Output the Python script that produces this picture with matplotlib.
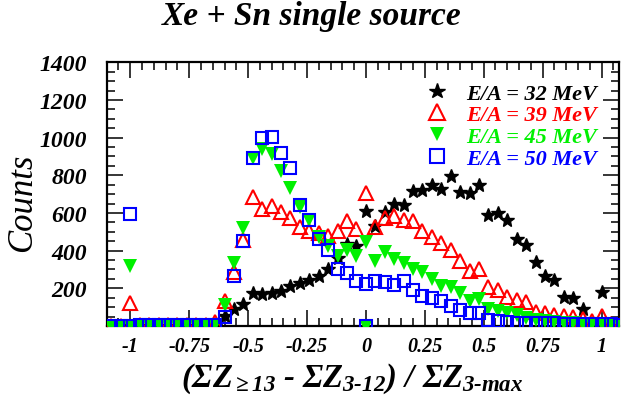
import numpy as np
import matplotlib
matplotlib.use('Agg')
import matplotlib.pyplot as plt
from matplotlib.ticker import MultipleLocator, FixedLocator, FixedFormatter

plt.rcParams['font.family'] = 'Liberation Serif'
plt.rcParams['font.weight'] = 'bold'
plt.rcParams['font.style'] = 'italic'
plt.rcParams['mathtext.fontset'] = 'custom'
plt.rcParams['mathtext.rm'] = 'Liberation Serif:bold'
plt.rcParams['mathtext.it'] = 'Liberation Serif:bold:italic'
plt.rcParams['mathtext.bf'] = 'Liberation Serif:bold'

# ---------------- data ----------------
x_bins = [-1.08, -1.04, -1.00, -0.96, -0.92, -0.88, -0.84, -0.80, -0.76, -0.72, -0.68, -0.64,
          -0.60, -0.56, -0.52, -0.48, -0.44, -0.40, -0.36, -0.32, -0.28, -0.24, -0.20, -0.16,
          -0.12, -0.08, -0.04, 0.00, 0.04, 0.08, 0.12, 0.16, 0.20, 0.24, 0.28, 0.32, 0.36,
          0.40, 0.44, 0.48, 0.52, 0.56, 0.60, 0.64, 0.68, 0.72, 0.76, 0.80, 0.84, 0.88, 0.92,
          0.96, 1.00, 1.04, 1.08]

counts_32 = [0, 0, 0, 0, 0, 0, 0, 0, 0, 0, 0, 0,
             52, 90, 117, 175, 172, 175, 188, 211, 229, 245, 268, 301, 362, 434, 427,
             608,
             530, 606, 649, 642, 717, 720, 746, 729, 794, 711, 706, 750, 590, 599, 565, 463,
             431, 342, 268, 242, 153, 146, 90, 0,
             179, 0, 0]

counts_39 = [0, 0, 122, 5, 5, 5, 5, 5, 5, 5, 5, 20,
             135, 288, 454, 686, 622, 637, 605, 571, 528, 505, 494, 478, 507, 560, 516,
             705,
             525, 571, 582, 562, 556, 507, 472, 440, 401, 343, 290, 303, 208, 190, 155, 139,
             125, 76, 70, 58, 52, 50, 35, 28,
             55, 8, 5]

counts_45 = [0, 0, 321, 3, 3, 3, 3, 3, 3, 3, 3, 5,
             112, 333, 522, 890, 940, 915, 821, 735, 630, 562, 472, 423, 372, 405, 372,
             446,
             343, 395, 356, 337, 303, 289, 252, 214, 206, 175, 135, 145, 92, 80, 68, 56,
             43, 34, 28, 22, 18, 15, 12, 10,
             8, 5, 3]

counts_50 = [0, 0, 592, 3, 3, 3, 3, 3, 3, 3, 3, 5,
             50, 268, 449, 892, 999, 1003, 918, 839, 640, 565, 461, 401, 300, 282, 238,
             223,
             241, 236, 218, 238, 190, 161, 150, 135, 108, 85, 68, 70, 30, 25, 20, 18,
             16, 15, 15, 14, 13, 12, 12, 11,
             10, 8, 6]

# extra empty-bin points drawn at the baseline
extra_x = [-1.00, 0.00]
extra_y = [0, 0]

labels = ['E/A = 32 MeV', 'E/A = 39 MeV', 'E/A = 45 MeV', 'E/A = 50 MeV']
colors = ['black', '#ff0000', '#00f000', '#0000ff']

xtick_vals = [-1, -0.75, -0.5, -0.25, 0, 0.25, 0.5, 0.75, 1]
xtick_labels = ['-1', '-0.75', '-0.5', '-0.25', '0', '0.25', '0.5', '0.75', '1']
ytick_vals = [200, 400, 600, 800, 1000, 1200, 1400]
ytick_labels = ['200', '400', '600', '800', '1000', '1200', '1400']

# ---------------- figure ----------------
fig = plt.figure(figsize=(6.23, 4.02), dpi=100)
ax = fig.add_axes([106.7 / 623, (402 - 327) / 402, (618.5 - 106.7) / 623, (327 - 63.3) / 402])

ax.plot(x_bins, counts_32, linestyle='none', marker='*', markersize=10.5,
        color=colors[0], label=labels[0], zorder=3)
ax.plot(x_bins, counts_39, linestyle='none', marker='^', markersize=10,
        markerfacecolor='none', markeredgecolor=colors[1], markeredgewidth=1.5,
        label=labels[1], zorder=4)
ax.plot(x_bins, counts_45, linestyle='none', marker='v', markersize=9.5,
        color=colors[2], markeredgewidth=0, label=labels[2], zorder=5)
ax.plot(extra_x, extra_y, linestyle='none', marker='v', markersize=9.5,
        color=colors[2], markeredgewidth=0, zorder=5)
ax.plot(x_bins, counts_50, linestyle='none', marker='s', markersize=9.3,
        markerfacecolor='none', markeredgecolor=colors[3], markeredgewidth=1.5,
        label=labels[3], zorder=6)
ax.plot(extra_x, extra_y, linestyle='none', marker='s', markersize=9.3,
        markerfacecolor='none', markeredgecolor=colors[3], markeredgewidth=1.5, zorder=6)

ax.set_xlim(-1.1, 1.072)
ax.set_ylim(0, 1400)

ax.xaxis.set_major_locator(FixedLocator(xtick_vals))
ax.xaxis.set_major_formatter(FixedFormatter(xtick_labels))
ax.xaxis.set_minor_locator(MultipleLocator(0.05))
ax.yaxis.set_major_locator(FixedLocator(ytick_vals))
ax.yaxis.set_major_formatter(FixedFormatter(ytick_labels))
ax.yaxis.set_minor_locator(MultipleLocator(50))

ax.tick_params(which='both', direction='in', top=True, right=True, width=1.1)
ax.tick_params(which='major', length=11.5)
ax.tick_params(which='minor', length=5.8)
ax.tick_params(axis='x', which='major', labelsize=14.5, pad=7)
ax.tick_params(axis='y', which='major', labelsize=17, pad=14)
for sp in ax.spines.values():
    sp.set_linewidth(1.6)

ax.set_ylabel('Counts', fontsize=25)
ax.yaxis.set_label_coords(-0.133, 0.47)
ax.set_xlabel(r'$\mathit{(}\Sigma\mathit{Z}_{\mathit{\geq13}}\text{ - }\Sigma\mathit{Z}_{\mathit{3\text{-}12}}\mathit{)\ /\ }\Sigma\mathit{Z}_{\mathit{3\text{-}max}}$',
              fontsize=23.5)
ax.xaxis.set_label_coords(0.479, -0.13)

fig.text(311.5 / 623, 1 - 17 / 402, 'Xe + Sn single source', fontsize=24,
         ha='center', va='center')

leg = ax.legend(loc='upper right', bbox_to_anchor=(0.985, 0.972), frameon=False,
                fontsize=16, handlelength=1.0, handletextpad=0.85, labelspacing=0.05,
                borderaxespad=0.2, labelcolor=colors, markerscale=1.1)

fig.savefig('out.png', dpi=100)
